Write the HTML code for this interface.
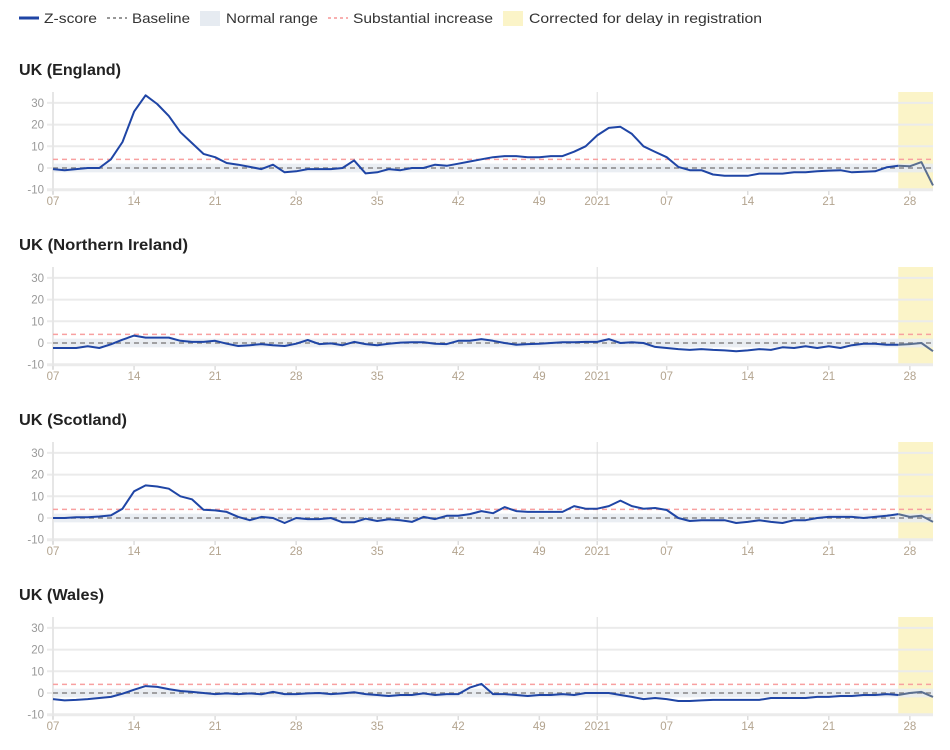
<!DOCTYPE html>
<html><head><meta charset="utf-8">
<style>
body{margin:0;background:#fff;width:950px;height:750px;overflow:hidden;font-family:"Liberation Sans",sans-serif;}
svg{display:block}
</style></head>
<body>
<svg id="chart" width="950" height="750">
<g id="legend">
  <g>
    <line x1="19" y1="18" x2="39" y2="18" stroke="#1f45a5" stroke-width="3"/>
    <text x="44" y="23" font-size="14" fill="#333" textLength="53" lengthAdjust="spacingAndGlyphs">Z-score</text></g>
  <g>
    <line x1="107" y1="18" x2="127" y2="18" stroke="#777" stroke-width="1.5" stroke-dasharray="3,3"/>
    <text x="132" y="23" font-size="14" fill="#333" textLength="58" lengthAdjust="spacingAndGlyphs">Baseline</text></g>
  <g>
    <rect x="200" y="11" width="20" height="15" fill="#e6ebf1"/>
    <text x="226" y="23" font-size="14" fill="#333" textLength="92" lengthAdjust="spacingAndGlyphs">Normal range</text></g>
  <g>
    <line x1="328" y1="18" x2="348" y2="18" stroke="#f59595" stroke-width="1.5" stroke-dasharray="3,3"/>
    <text x="353" y="23" font-size="14" fill="#333" textLength="140" lengthAdjust="spacingAndGlyphs">Substantial increase</text></g>
  <g>
    <rect x="503" y="11" width="20" height="15" fill="#fbf4c8"/>
    <text x="529" y="23" font-size="14" fill="#333" textLength="233" lengthAdjust="spacingAndGlyphs">Corrected for delay in registration</text></g>
</g>
</svg>
<script>
const regions = ["UK (England)", "UK (Northern Ireland)", "UK (Scotland)", "UK (Wales)"];
const titleWidths = [102, 169, 108, 85];
const yTicks = [-10, 0, 10, 20, 30];
const xTickLabels = ["07","14","21","28","35","42","49","2021","07","14","21","28"];
const xTickIndex = [0,7,14,21,28,35,42,47,53,60,67,74];
const baselineValue = 0;
const normalRange = [-2, 2];
const substantialIncrease = 4;
const correctedFromIndex = 73;
const englandValues = [-0.5,-1,-0.5,0,0,4,12,26,33.5,29.5,24,16.5,11.5,6.5,5,2.3,1.5,0.5,-0.5,1.5,-2,-1.5,-0.5,-0.5,-0.5,0,3.5,-2.5,-2,-0.5,-1,0,0,1.5,1,2,3,4,5,5.5,5.5,5,5,5.5,5.5,7.5,10,
 15,18.5,19,15.7,10,7.4,5,0.5,-1,-1,-3,-3.6,-3.6,-3.6,-2.6,-2.6,-2.6,-2,-2,-1.5,-1.2,-1,-2,-1.7,-1.5,0.3,1,0.8,2.7,-8];
const nirelandValues = [-2.3,-2.3,-2.3,-1.5,-2.3,-0.6,1.5,3.4,2.5,2.5,2.5,1,0.5,0.5,1,-0.3,-1.4,-1,-0.5,-1,-1.4,-0.3,1.4,-0.5,-0.2,-1,0.5,-0.5,-1,-0.3,0.2,0.3,0.3,-0.3,-0.5,1,1,1.8,1,0,-0.8,-0.5,-0.3,0,0.3,0.3,0.5,
 0.5,1.8,0,0.3,0,-1.8,-2.3,-2.8,-3.2,-2.8,-3.2,-3.4,-3.8,-3.4,-2.8,-3.2,-2,-2.3,-1.5,-2.3,-1.5,-2.3,-1,-0.3,-0.3,-0.8,-0.8,-0.5,0,-3.8];
const scotlandValues = [0,0,0.3,0.3,0.7,1.2,4.3,12.3,15,14.5,13.5,10,8.6,3.8,3.5,2.8,0.5,-1,0.5,0,-2.3,0,-0.5,-0.5,0,-2,-2,-0.3,-1.4,-0.6,-1,-1.8,0.5,-0.5,1,1,1.8,3.2,2.2,5,3.2,2.8,2.8,2.8,2.8,5.5,4.3,
 4.3,5.5,8,5.5,4.3,4.6,3.7,0,-1.4,-1,-1,-1,-2.3,-1.8,-1,-1.8,-2.3,-1,-1,0,0.5,0.5,0.5,0,0.5,1,1.8,0.5,1,-1.8];
const walesValues = [-2.8,-3.4,-3.2,-2.8,-2.3,-1.8,-0.3,1.5,3.2,2.8,1.8,0.9,0.5,0,-0.5,-0.2,-0.5,-0.2,-0.6,0.5,-0.5,-0.5,-0.2,0,-0.5,-0.2,0.3,-0.5,-0.9,-1.4,-0.9,-0.9,-0.2,-0.9,-0.5,-0.5,2.5,4.2,-0.5,-0.5,-0.9,-1.4,-0.9,-0.9,-0.5,-0.9,0,
 0,0,-0.9,-1.8,-2.8,-2.3,-2.8,-3.7,-3.7,-3.4,-3.2,-3.2,-3.2,-3.2,-3.2,-2.3,-2.3,-2.3,-2.3,-1.8,-1.8,-1.4,-1.4,-0.9,-0.9,-0.5,-0.9,0,0.5,-1.8];
const seriesList = [englandValues, nirelandValues, scotlandValues, walesValues];
const slugs = ["england","northern-ireland","scotland","wales"];

const NS = "http://www.w3.org/2000/svg";
const svg = document.getElementById("chart");
const X0 = 53, X1 = 933, NPTS = 77;
function mk(tag, attrs, parent){const e=document.createElementNS(NS,tag);for(const k in attrs)e.setAttribute(k,attrs[k]);parent.appendChild(e);return e;}
function xs(i){return X0 + i*(X1-X0)/(NPTS-1);}

regions.forEach((name, p) => {
  const off = p*175;
  const yScale = v => 168 + off - v*2.17;
  const g = mk("g", {}, svg);
  
  
  const t = mk("text", {x:19, y:75+off, "font-size":15.5, "font-weight":"bold", fill:"#222", textLength:titleWidths[p], lengthAdjust:"spacingAndGlyphs"}, g);
  t.textContent = name;
  
  
  const ca = mk("rect", {x:xs(correctedFromIndex), y:92+off, width:X1-xs(correctedFromIndex), height:98, fill:"#fbf4c8"}, g);
  
  
  yTicks.forEach(v => {
    const y = yScale(v);
    const gl = mk("line", {x1:47, x2:X1, y1:y, y2:y, stroke:"#ebebeb", "stroke-width": v===-10?3:2}, g);
    
    
    const tl = mk("text", {x:44, y:y+4, "font-size":11.5, fill:"#999", "text-anchor":"end"}, g);
    tl.textContent = v;
    
    
  });
  const nr = mk("rect", {x:X0, y:yScale(normalRange[1]), width:X1-X0, height:yScale(normalRange[0])-yScale(normalRange[1]), fill:"#e6ebf1", opacity:0.85}, g);
  
  
  const yd = mk("line", {x1:xs(47), x2:xs(47), y1:92+off, y2:190+off, stroke:"#ddd", "stroke-width":1}, g);
  
  
  const ya = mk("line", {x1:X0, x2:X0, y1:92+off, y2:194+off, stroke:"#e6e6e6", "stroke-width":2}, g);
  
  
  const si = mk("line", {x1:X0, x2:X1, y1:yScale(substantialIncrease), y2:yScale(substantialIncrease), stroke:"#f8a0a0", "stroke-width":1.5, "stroke-dasharray":"5,4"}, g);
  
  
  const bl = mk("line", {x1:X0, x2:X1, y1:yScale(baselineValue), y2:yScale(baselineValue), stroke:"#888", "stroke-width":1.5, "stroke-dasharray":"5,4"}, g);
  
  
  xTickLabels.forEach((lab, k) => {
    const x = xs(xTickIndex[k]);
    const tk = mk("line", {x1:x, x2:x, y1:191+off, y2:195+off, stroke:"#ddd", "stroke-width":1.5}, g);
    
    
    const tx = mk("text", {x:x, y:205+off, "font-size":11.5, fill:"#b3a48f", "text-anchor":"middle"}, g);
    tx.textContent = lab;
    
    
  });
  const vals = seriesList[p];
  const main = vals.slice(0, correctedFromIndex+1).map((v,i)=>xs(i).toFixed(1)+","+yScale(v).toFixed(1)).join(" ");
  const pl = mk("polyline", {points:main, fill:"none", stroke:"#1f45a5", "stroke-width":2, "stroke-linejoin":"round"}, g);
  
  
  const corr = vals.slice(correctedFromIndex).map((v,i)=>xs(i+correctedFromIndex).toFixed(1)+","+yScale(v).toFixed(1)).join(" ");
  const pc = mk("polyline", {points:corr, fill:"none", stroke:"#5b6f8f", "stroke-width":2, "stroke-linejoin":"round"}, g);
  
  
});
</script>
</body></html>
